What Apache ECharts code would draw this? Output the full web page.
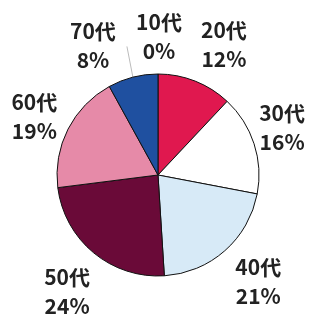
<!DOCTYPE html>
<html>
<head>
<meta charset="utf-8">
<script src="https://cdn.jsdelivr.net/npm/echarts@6/dist/echarts.min.js"></script>
<style>
  html, body { margin: 0; padding: 0; background: #fff; }
  #chart { width: 312px; height: 316px; }
</style>
</head>
<body>
<div id="chart"></div>
<script>
// 年代別の割合 (%)
const ageGroups = ['10代', '20代', '30代', '40代', '50代', '60代', '70代'];
const shares = [0, 12, 16, 21, 24, 19, 8];
const sliceColors = ['#E0184F', '#E0184F', '#FFFFFF', '#D7EAF7', '#6A0A38', '#E68AA8', '#1F50A0'];

const center = [158, 175];
const radius = 101;
const labelDist = 141;
// ラベル位置の微調整 [dx, dy]
const labelNudge = [[1, 3], [14, 1], [-10, -4], [7, 1], [-1, 8], [2, 6], [-30, 7]];

const total = shares.reduce((a, b) => a + b, 0);
const midFrac = [];
let acc = 0;
shares.forEach((v) => {
  midFrac.push((acc + v / 2) / total);
  acc += v;
});

const chart = echarts.init(document.getElementById('chart'));

const option = {
  animation: false,
  series: [
    {
      type: 'pie',
      center: center,
      radius: radius,
      startAngle: 90,
      clockwise: true,
      avoidLabelOverlap: false,
      stillShowZeroSum: true,
      minShowLabelAngle: -1,
      itemStyle: {
        borderColor: '#111',
        borderWidth: 1,
      },
      label: {
        show: true,
        position: 'outside',
        formatter: '{b}\n{c}%',
        fontFamily: '"Noto Sans CJK JP", "Noto Sans", sans-serif',
        fontSize: 21,
        fontWeight: 'bold',
        lineHeight: 29,
        color: '#222',
      },
      labelLine: {
        show: false,
      },
      labelLayout: function (params) {
        const i = params.dataIndex;
        const a = midFrac[i] * Math.PI * 2;
        const x = center[0] + labelDist * Math.sin(a) + labelNudge[i][0];
        const y = center[1] - labelDist * Math.cos(a) + labelNudge[i][1];
        const out = { x: x, y: y, align: 'center', verticalAlign: 'middle' };
        if (params.labelLinePoints) {
          const p0 = params.labelLinePoints[0];
          out.labelLinePoints = [[p0[0], p0[1]], [x + 34, y + 1], [x + 34, y + 1]];
        }
        return out;
      },
      data: ageGroups.map((name, i) => {
        const d = { name: name, value: shares[i], itemStyle: { color: sliceColors[i] } };
        if (name === '70代') {
          d.labelLine = { show: true, length: 10, length2: 0, lineStyle: { color: '#bbb', width: 1 } };
        }
        return d;
      }),
    },
  ],
};

chart.setOption(option);
</script>
</body>
</html>
